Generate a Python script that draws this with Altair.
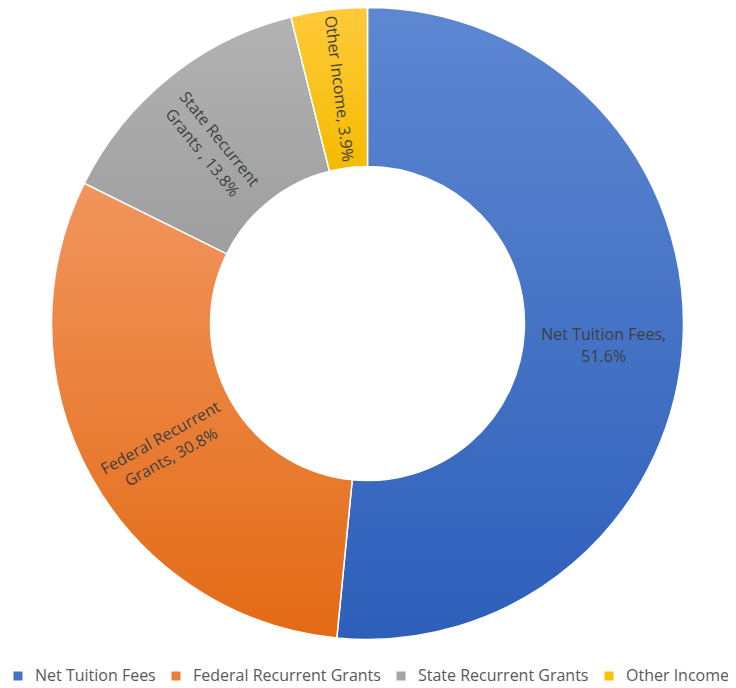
import altair as alt
import pandas as pd

categories = ["Net Tuition Fees", "Federal Recurrent Grants", "State Recurrent Grants", "Other Income"]
values = [51.6, 30.8, 13.8, 3.9]
slice_labels = ["Net Tuition Fees,\n51.6%", "Federal Recurrent\nGrants, 30.8%",
                "State Recurrent\nGrants , 13.8%", "Other Income, 3.9%"]
colors = ["#4472C4", "#ED7D31", "#A5A5A5", "#FFC000"]
light = ["#5E87D1", "#F1955D", "#B2B2B2", "#FFCA3A"]
dark = ["#2D5FBA", "#E36A14", "#9E9E9E", "#F4BB00"]

df = pd.DataFrame({"idx": list(range(len(categories))), "cat": categories,
                   "val": values, "lab": slice_labels})

CX, CY = 359.5, 315.5
R_OUT, R_IN = 316, 157
FONT = "Open Sans"

def grad(i):
    return {"gradient": "linear", "x1": 0, "y1": 0, "x2": 0, "y2": 1,
            "stops": [{"offset": 0, "color": light[i]}, {"offset": 1, "color": dark[i]}]}

base = alt.Chart(df)
theta = alt.Theta("val:Q", stack=True)
order = alt.Order("idx:Q")

flat = base.mark_arc(outerRadius=R_OUT, innerRadius=R_IN).encode(
    theta=theta, order=order,
    x=alt.value(CX), y=alt.value(CY),
    color=alt.Color("cat:N", sort=categories,
                    scale=alt.Scale(domain=categories, range=colors),
                    legend=alt.Legend(title=None, orient="none", legendX=2, legendY=660,
                                      direction="horizontal", symbolType="square",
                                      symbolSize=81, symbolStrokeWidth=0,
                                      labelFont=FONT, labelFontSize=16, labelColor="#595959",
                                      labelLimit=400, labelOffset=9, columnPadding=12,
                                      padding=0)),
)

fill_def = {"condition": [{"test": f"datum.idx === {i}", "value": grad(i)} for i in range(3)],
            "value": grad(3)}

grad_layer = base.mark_arc(outerRadius=R_OUT, innerRadius=R_IN, stroke="white",
                           strokeWidth=1.5).encode(
    theta=theta, order=order,
    x=alt.value(CX), y=alt.value(CY),
    fill=fill_def,
)

text = base.transform_joinaggregate(total="sum(val)").transform_window(
    cum="sum(val)", sort=[alt.SortField("idx")]
).transform_calculate(
    mid="(datum.cum - datum.val/2) / datum.total * 360"
).transform_calculate(
    a0="datum.mid - 270"
).transform_calculate(
    a1="datum.a0 < -90 ? datum.a0 + 180 : datum.a0"
).transform_calculate(
    ang="abs(datum.a1) < 10 ? 0 : (datum.a1 + 360) % 360"
).mark_text(radius=(R_OUT + R_IN) / 2, font=FONT, fontSize=16, color="#3F3F3F",
            lineBreak="\n", lineHeight=22, align="center", baseline="middle").encode(
    theta=theta, order=order,
    x=alt.value(CX), y=alt.value(CY),
    text="lab:N",
    angle=alt.Angle("ang:Q", scale=None),
)

chart = alt.layer(flat, grad_layer, text).properties(
    width=720, height=680, autosize=alt.AutoSizeParams(type="none"), padding=0
).configure_view(stroke=None)

chart.save("out.html", embed_options={"renderer": "svg", "actions": False})
